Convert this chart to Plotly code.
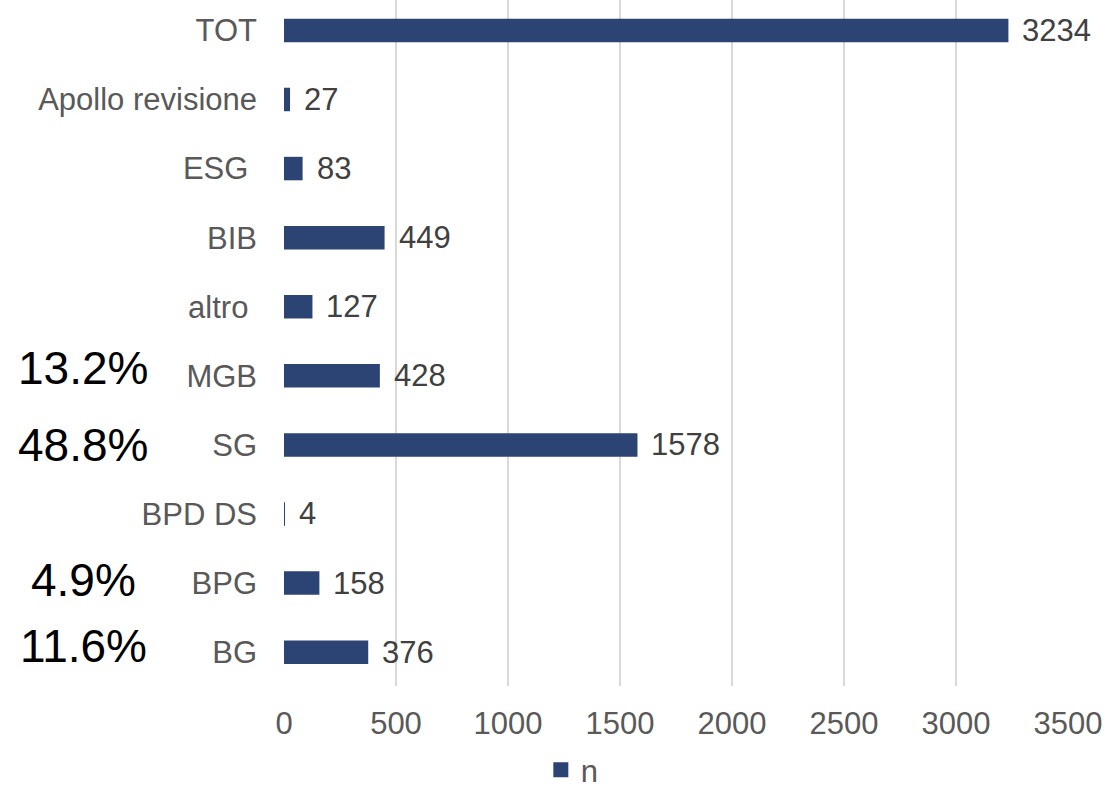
import plotly.graph_objects as go

categories = ["BG", "BPG", "BPD DS", "SG", "MGB", "altro ", "BIB", "ESG ", "Apollo revisione", "TOT"]
values = [376, 158, 4, 1578, 428, 127, 449, 83, 27, 3234]
series_name = "n"
pct_categories = ["MGB", "SG", "BPG", "BG"]
pct_labels = ["13.2%", "48.8%", "4.9%", "11.6%"]
pct_yshift = [8, 0, 3, 6]
x_ticks = [0, 500, 1000, 1500, 2000, 2500, 3000, 3500]

BAR = "#2B4474"
FONT = "Liberation Sans, Arial, sans-serif"

fig = go.Figure()
fig.add_trace(go.Bar(
    y=categories, x=values, orientation="h", name=series_name,
    marker=dict(color=BAR, line=dict(width=0)), width=0.34, showlegend=False,
))
# legend entry with a larger square swatch
fig.add_trace(go.Scatter(
    x=[None], y=[None], mode="markers", name=series_name,
    marker=dict(symbol="square", size=15, color=BAR), showlegend=True,
))

for c, v in zip(categories, values):
    fig.add_annotation(x=v, y=c, xref="x", yref="y", text=str(v), showarrow=False,
                       xanchor="left", yanchor="middle", xshift=12,
                       font=dict(family=FONT, size=31, color="#404040"))

for c, t, ys in zip(pct_categories, pct_labels, pct_yshift):
    fig.add_annotation(x=(83 - 284) / 784, y=c, xref="paper", yref="y", text=t,
                       showarrow=False, xanchor="center", yanchor="middle", yshift=ys,
                       font=dict(family=FONT, size=46, color="#000000"))

fig.update_layout(
    width=1107, height=797, autosize=False,
    margin=dict(l=284, r=39, t=0, b=111),
    plot_bgcolor="white", paper_bgcolor="white",
    font=dict(family=FONT, size=31, color="#595959"),
    showlegend=True,
    legend=dict(orientation="h", xref="container", yref="container",
                x=0.517, xanchor="center", y=0.0, yanchor="bottom",
                font=dict(family=FONT, size=31, color="#595959"),
                bgcolor="rgba(0,0,0,0)"),
    xaxis=dict(range=[0, 3500], tickvals=x_ticks, showgrid=True,
               gridcolor="#D9D9D9", gridwidth=2, zeroline=False, showline=False,
               ticks="", ticklabelstandoff=16,
               tickfont=dict(family=FONT, size=31, color="#595959")),
    yaxis=dict(categoryorder="array", categoryarray=categories,
               tickvals=categories,
               ticktext=[c.replace(" ", "\u00a0") if c.endswith(" ") else c for c in categories],
               range=[-0.49, 9.44], showgrid=False, zeroline=False, showline=False,
               ticks="", ticklabelstandoff=26,
               tickfont=dict(family=FONT, size=31, color="#595959")),
)

fig.write_html("out.html")
